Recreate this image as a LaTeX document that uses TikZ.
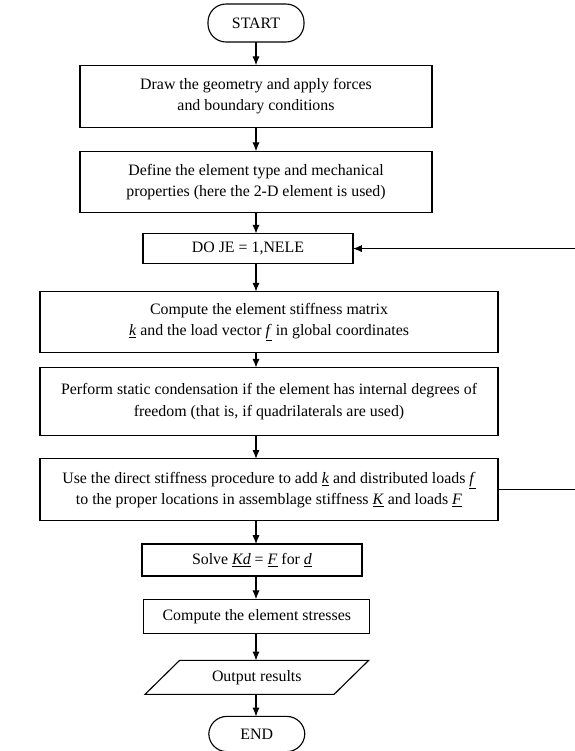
\documentclass[tikz,border=0pt]{standalone}
\usepackage{fontspec}
\setmainfont{Liberation Serif}
\usetikzlibrary{positioning,arrows.meta,shapes.geometric}
\newcommand{\uvar}[1]{\underline{\textit{#1}}}

\begin{document}
\begin{tikzpicture}[
  font=\fontsize{11.3}{15}\selectfont,
  node distance=0.58cm,
  line width=0.8pt,
  term/.style={draw, outer sep=0pt, rounded corners=0.45cm, minimum width=2.4cm, minimum height=0.95cm, align=center},
  proc/.style={draw, outer sep=0pt, minimum height=1.55cm, align=center},
  small/.style={draw, outer sep=0pt, minimum height=0.8cm, align=center},
  io/.style={draw, outer sep=0pt, trapezium, trapezium left angle=47, trapezium right angle=133, trapezium stretches=true, minimum width=5.6cm, minimum height=0.85cm, align=center},
  arr/.style={-{Latex[length=2.2mm,width=1.8mm]}},
  ]
  \useasboundingbox (-6.4,0.575) rectangle (7.95,-18.2);
  % main column
  \node[term] (start) at (0,0) {START};
  \node[proc, minimum width=8.8cm, below=0.58cm of start] (geom) {Draw the geometry and apply forces\\and boundary conditions};
  \node[proc, minimum width=8.8cm, minimum height=1.53cm, below=0.6cm of geom] (elem) {Define the element type and mechanical\\properties (here the 2-D element is used)};
  \node[small, minimum width=5.25cm, minimum height=0.75cm, below=0.53cm of elem, xshift=-0.2cm] (do) {DO JE = 1,NELE};
  \node[proc, minimum width=11.45cm, minimum height=1.53cm, below=0.7cm of do, xshift=0.525cm] (cmp) {Compute the element stiffness matrix\\\uvar{k} and the load vector \uvar{f} in global coordinates};
  \node[proc, minimum width=11.45cm, minimum height=1.7cm, below=0.37cm of cmp] (cond) {Perform static condensation if the element has internal degrees of\\freedom (that is, if quadrilaterals are used)};
  \node[proc, minimum width=11.45cm, below=0.58cm of cond] (asm) {Use the direct stiffness procedure to add \uvar{k} and distributed loads \uvar{f}\\to the proper locations in assemblage stiffness \uvar{K} and loads \uvar{F}};
  \node[small, minimum width=5.5cm, below=0.58cm of asm, xshift=-0.425cm] (solve) {Solve \uvar{Kd} = \uvar{F} for \uvar{d}};
  \node[small, minimum width=5.65cm, minimum height=0.85cm, below=0.58cm of solve, xshift=0.12cm] (strs) {Compute the element stresses};
  \node[io, below=0.68cm of strs] (out) {Output results};
  \node[term, minimum height=0.88cm, below=0.55cm of out] (stop) {END};
  % straight arrows down the column
  \foreach \a/\b in {start/geom, geom/elem, elem/do, do/cmp, cmp/cond, cond/asm, asm/solve, solve/strs, strs/out, out/stop}
    \draw[arr] (\a.south -| start) -- (\b.north -| start);
  % loop back over the elements
  \draw[arr] (asm.east) -- ++(2.6cm,0) |- (do.east);
\end{tikzpicture}
\end{document}
